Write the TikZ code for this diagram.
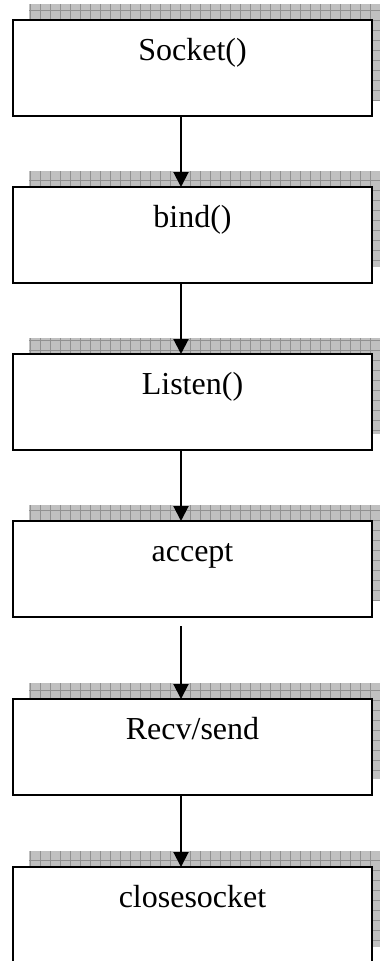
\documentclass[tikz,border=0pt]{standalone}
\usepackage{fontspec}
\setmainfont{Liberation Serif}
\usepackage{xcolor}
\usetikzlibrary{positioning,arrows.meta,backgrounds}
\definecolor{shadowgray}{RGB}{192,192,192}
\definecolor{gridgray}{RGB}{145,145,145}

\begin{document}
\begin{tikzpicture}[
  x=1pt, y=1pt,
  node distance=71pt,
  procbox/.style={draw, line width=2.3pt, fill=white, rectangle, inner sep=0pt, outer sep=0pt,
    minimum width=359pt, minimum height=96pt, text height=40pt, text depth=56pt,
    font=\fontsize{32}{38}\selectfont},
  arrow/.style={-{Triangle[length=15pt,width=15pt]}, line width=2pt}
]
\clip (0,0) rectangle (380,-961);
\useasboundingbox (0,0) rectangle (380,-961);
\node[procbox] (sock) at (192.5,-68) {Socket()};
\node[procbox, below=of sock] (bind) {bind()};
\node[procbox, below=of bind] (listen) {Listen()};
\node[procbox, below=of listen] (accept) {accept};
\node[procbox, below=82pt of accept] (recv) {Recv/send};
\node[procbox, below=72pt of recv] (close) {closesocket};
% hatched drop shadows
\begin{scope}[on background layer]
\foreach \n in {sock,bind,listen,accept,recv,close}{
  \fill[shadowgray] ([shift={(16pt,16pt)}]\n.south west) rectangle ([shift={(16pt,16pt)}]\n.north east);
  \begin{scope}
    \clip ([shift={(16pt,16pt)}]\n.south west) rectangle ([shift={(16pt,16pt)}]\n.north east);
    \draw[gridgray, line width=0.7pt, step=10pt] ([shift={(16pt,16pt)}]\n.south west) grid ([shift={(16pt,16pt)}]\n.north east);
  \end{scope}
}
\end{scope}
\draw[arrow] ([xshift=-11.5pt]sock.south) -- ([xshift=-11.5pt]bind.north);
\draw[arrow] ([xshift=-11.5pt]bind.south) -- ([xshift=-11.5pt]listen.north);
\draw[arrow] ([xshift=-11.5pt]listen.south) -- ([xshift=-11.5pt]accept.north);
\draw[arrow] ([xshift=-11.5pt,yshift=-9pt]accept.south) -- ([xshift=-11.5pt]recv.north);
\draw[arrow] ([xshift=-11.5pt]recv.south) -- ([xshift=-11.5pt]close.north);
\end{tikzpicture}
\end{document}
